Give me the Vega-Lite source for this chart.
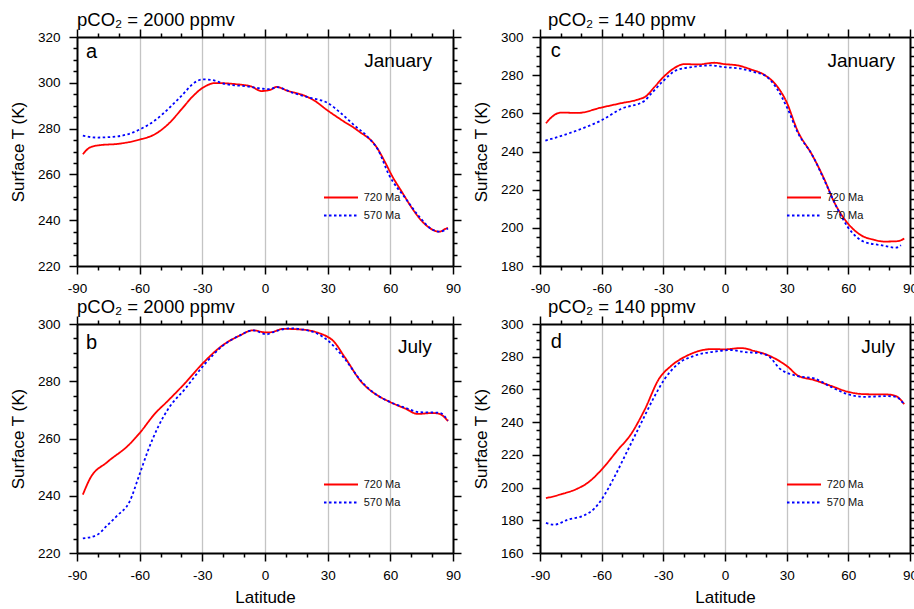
{
  "$schema": "https://vega.github.io/schema/vega-lite/v6.json",
  "padding": {"left": 9, "top": 10, "right": 0, "bottom": 0},
  "background": "white",
  "config": {
    "view": {"stroke": null},
    "font": "Liberation Sans",
    "axis": {"domainColor": "black", "domainWidth": 2, "tickColor": "black", "tickWidth": 1.5, "labelColor": "black", "labelFont": "Liberation Sans", "labelFontSize": 13.5, "titleFont": "Liberation Sans", "titleFontSize": 17, "titleFontWeight": "normal", "titleColor": "black"},
    "title": {"font": "Liberation Sans", "fontSize": 18.5, "fontWeight": "normal", "anchor": "start", "frame": "group", "color": "black", "offset": -1},
    "legend": {"orient": "none", "legendX": 254.5, "legendY": 151, "title": null, "symbolType": "M-2,0H2", "symbolSize": 289, "symbolStrokeWidth": 2, "labelFontSize": 11, "labelFont": "Liberation Sans", "labelColor": "#111", "labelOffset": 13.2, "rowPadding": 3, "padding": 0}
  },
  "datasets": {
    "curves": [
      {"panel": "a", "series": "720 Ma", "lat": -87.2, "T": 268.8}, {"panel": "a", "series": "720 Ma", "lat": -83.7, "T": 271.8}, {"panel": "a", "series": "720 Ma", "lat": -78.8, "T": 272.8}, {"panel": "a", "series": "720 Ma", "lat": -70.7, "T": 273.3}, {"panel": "a", "series": "720 Ma", "lat": -60, "T": 275.2}, {"panel": "a", "series": "720 Ma", "lat": -52.8, "T": 277.5}, {"panel": "a", "series": "720 Ma", "lat": -46.3, "T": 282.0}, {"panel": "a", "series": "720 Ma", "lat": -39.8, "T": 288.6}, {"panel": "a", "series": "720 Ma", "lat": -35, "T": 293.7}, {"panel": "a", "series": "720 Ma", "lat": -30, "T": 297.7}, {"panel": "a", "series": "720 Ma", "lat": -23.6, "T": 299.9}, {"panel": "a", "series": "720 Ma", "lat": -13.9, "T": 299.4}, {"panel": "a", "series": "720 Ma", "lat": -6.6, "T": 298.4}, {"panel": "a", "series": "720 Ma", "lat": -1.7, "T": 296.4}, {"panel": "a", "series": "720 Ma", "lat": 2.4, "T": 296.9}, {"panel": "a", "series": "720 Ma", "lat": 5.6, "T": 298.2}, {"panel": "a", "series": "720 Ma", "lat": 10.5, "T": 296.6}, {"panel": "a", "series": "720 Ma", "lat": 18.6, "T": 294.5}, {"panel": "a", "series": "720 Ma", "lat": 23.5, "T": 292.3}, {"panel": "a", "series": "720 Ma", "lat": 30, "T": 287.9}, {"panel": "a", "series": "720 Ma", "lat": 36.4, "T": 283.9}, {"panel": "a", "series": "720 Ma", "lat": 44.5, "T": 279.1}, {"panel": "a", "series": "720 Ma", "lat": 53.5, "T": 271.8}, {"panel": "a", "series": "720 Ma", "lat": 57.5, "T": 265.3}, {"panel": "a", "series": "720 Ma", "lat": 60.8, "T": 259.4}, {"panel": "a", "series": "720 Ma", "lat": 65.7, "T": 252.1}, {"panel": "a", "series": "720 Ma", "lat": 70.5, "T": 245.1}, {"panel": "a", "series": "720 Ma", "lat": 75.4, "T": 239.3}, {"panel": "a", "series": "720 Ma", "lat": 80.3, "T": 235.8}, {"panel": "a", "series": "720 Ma", "lat": 83.5, "T": 235.0}, {"panel": "a", "series": "720 Ma", "lat": 86.8, "T": 236.4}, {"panel": "a", "series": "720 Ma", "lat": 87.6, "T": 236.6},
      {"panel": "a", "series": "570 Ma", "lat": -87.2, "T": 276.9}, {"panel": "a", "series": "570 Ma", "lat": -80.4, "T": 276.1}, {"panel": "a", "series": "570 Ma", "lat": -70.7, "T": 276.6}, {"panel": "a", "series": "570 Ma", "lat": -60, "T": 279.6}, {"panel": "a", "series": "570 Ma", "lat": -52.8, "T": 283.5}, {"panel": "a", "series": "570 Ma", "lat": -46.3, "T": 288.6}, {"panel": "a", "series": "570 Ma", "lat": -39.8, "T": 294.5}, {"panel": "a", "series": "570 Ma", "lat": -33.4, "T": 300.3}, {"panel": "a", "series": "570 Ma", "lat": -30, "T": 301.5}, {"panel": "a", "series": "570 Ma", "lat": -26, "T": 301.3}, {"panel": "a", "series": "570 Ma", "lat": -18.7, "T": 299.4}, {"panel": "a", "series": "570 Ma", "lat": -9, "T": 298.5}, {"panel": "a", "series": "570 Ma", "lat": -0.9, "T": 297.4}, {"panel": "a", "series": "570 Ma", "lat": 2.4, "T": 297.2}, {"panel": "a", "series": "570 Ma", "lat": 5.6, "T": 298.1}, {"panel": "a", "series": "570 Ma", "lat": 13.7, "T": 295.5}, {"panel": "a", "series": "570 Ma", "lat": 21.8, "T": 293.4}, {"panel": "a", "series": "570 Ma", "lat": 30, "T": 291.2}, {"panel": "a", "series": "570 Ma", "lat": 36.4, "T": 286.7}, {"panel": "a", "series": "570 Ma", "lat": 42.9, "T": 281.3}, {"panel": "a", "series": "570 Ma", "lat": 49.4, "T": 276.2}, {"panel": "a", "series": "570 Ma", "lat": 54.3, "T": 270.4}, {"panel": "a", "series": "570 Ma", "lat": 59.2, "T": 260.1}, {"panel": "a", "series": "570 Ma", "lat": 67.3, "T": 249.5}, {"panel": "a", "series": "570 Ma", "lat": 73.8, "T": 241.6}, {"panel": "a", "series": "570 Ma", "lat": 80.3, "T": 235.8}, {"panel": "a", "series": "570 Ma", "lat": 83.5, "T": 235.0}, {"panel": "a", "series": "570 Ma", "lat": 87.6, "T": 236.4},
      {"panel": "c", "series": "720 Ma", "lat": -87.1, "T": 254.8}, {"panel": "c", "series": "720 Ma", "lat": -83.8, "T": 258.5}, {"panel": "c", "series": "720 Ma", "lat": -79.8, "T": 260.4}, {"panel": "c", "series": "720 Ma", "lat": -71.7, "T": 260.2}, {"panel": "c", "series": "720 Ma", "lat": -60.3, "T": 263.0}, {"panel": "c", "series": "720 Ma", "lat": -50.6, "T": 265.3}, {"panel": "c", "series": "720 Ma", "lat": -42.5, "T": 267.2}, {"panel": "c", "series": "720 Ma", "lat": -38.4, "T": 269.0}, {"panel": "c", "series": "720 Ma", "lat": -34.4, "T": 273.7}, {"panel": "c", "series": "720 Ma", "lat": -29.5, "T": 279.5}, {"panel": "c", "series": "720 Ma", "lat": -24.7, "T": 283.7}, {"panel": "c", "series": "720 Ma", "lat": -19.8, "T": 285.8}, {"panel": "c", "series": "720 Ma", "lat": -13.3, "T": 285.6}, {"panel": "c", "series": "720 Ma", "lat": -5.2, "T": 286.5}, {"panel": "c", "series": "720 Ma", "lat": -0.3, "T": 285.8}, {"panel": "c", "series": "720 Ma", "lat": 6.2, "T": 285.1}, {"panel": "c", "series": "720 Ma", "lat": 12.6, "T": 283.0}, {"panel": "c", "series": "720 Ma", "lat": 19.1, "T": 280.2}, {"panel": "c", "series": "720 Ma", "lat": 24.8, "T": 274.9}, {"panel": "c", "series": "720 Ma", "lat": 29.7, "T": 266.5}, {"panel": "c", "series": "720 Ma", "lat": 35.3, "T": 250.9}, {"panel": "c", "series": "720 Ma", "lat": 42.6, "T": 237.8}, {"panel": "c", "series": "720 Ma", "lat": 48.3, "T": 225.5}, {"panel": "c", "series": "720 Ma", "lat": 53.2, "T": 213.3}, {"panel": "c", "series": "720 Ma", "lat": 59.7, "T": 202.4}, {"panel": "c", "series": "720 Ma", "lat": 66.2, "T": 196.1}, {"panel": "c", "series": "720 Ma", "lat": 72.6, "T": 193.7}, {"panel": "c", "series": "720 Ma", "lat": 77.5, "T": 192.8}, {"panel": "c", "series": "720 Ma", "lat": 84, "T": 193.0}, {"panel": "c", "series": "720 Ma", "lat": 87.2, "T": 194.4},
      {"panel": "c", "series": "570 Ma", "lat": -87.4, "T": 245.7}, {"panel": "c", "series": "570 Ma", "lat": -78.2, "T": 248.7}, {"panel": "c", "series": "570 Ma", "lat": -70.1, "T": 251.8}, {"panel": "c", "series": "570 Ma", "lat": -60.3, "T": 256.2}, {"panel": "c", "series": "570 Ma", "lat": -50.6, "T": 262.3}, {"panel": "c", "series": "570 Ma", "lat": -39.2, "T": 266.5}, {"panel": "c", "series": "570 Ma", "lat": -36, "T": 270.2}, {"panel": "c", "series": "570 Ma", "lat": -30.3, "T": 276.7}, {"panel": "c", "series": "570 Ma", "lat": -23.8, "T": 282.5}, {"panel": "c", "series": "570 Ma", "lat": -16.5, "T": 284.2}, {"panel": "c", "series": "570 Ma", "lat": -6.8, "T": 285.1}, {"panel": "c", "series": "570 Ma", "lat": -0.3, "T": 284.2}, {"panel": "c", "series": "570 Ma", "lat": 7.8, "T": 283.4}, {"panel": "c", "series": "570 Ma", "lat": 14.3, "T": 281.6}, {"panel": "c", "series": "570 Ma", "lat": 19.9, "T": 279.5}, {"panel": "c", "series": "570 Ma", "lat": 24.8, "T": 273.7}, {"panel": "c", "series": "570 Ma", "lat": 30.5, "T": 262.3}, {"panel": "c", "series": "570 Ma", "lat": 35.3, "T": 250.1}, {"panel": "c", "series": "570 Ma", "lat": 42.6, "T": 237.8}, {"panel": "c", "series": "570 Ma", "lat": 48.3, "T": 225.0}, {"panel": "c", "series": "570 Ma", "lat": 54.8, "T": 209.8}, {"panel": "c", "series": "570 Ma", "lat": 59.7, "T": 200.5}, {"panel": "c", "series": "570 Ma", "lat": 67.8, "T": 192.6}, {"panel": "c", "series": "570 Ma", "lat": 75.9, "T": 190.9}, {"panel": "c", "series": "570 Ma", "lat": 83.2, "T": 189.6}, {"panel": "c", "series": "570 Ma", "lat": 85.6, "T": 190.9},
      {"panel": "b", "series": "720 Ma", "lat": -87.2, "T": 240.4}, {"panel": "b", "series": "720 Ma", "lat": -83.7, "T": 246.1}, {"panel": "b", "series": "720 Ma", "lat": -75.6, "T": 251.7}, {"panel": "b", "series": "720 Ma", "lat": -65, "T": 257.9}, {"panel": "b", "series": "720 Ma", "lat": -60, "T": 261.9}, {"panel": "b", "series": "720 Ma", "lat": -52.8, "T": 268.6}, {"panel": "b", "series": "720 Ma", "lat": -46.3, "T": 273.3}, {"panel": "b", "series": "720 Ma", "lat": -38.2, "T": 279.4}, {"panel": "b", "series": "720 Ma", "lat": -30, "T": 286.1}, {"panel": "b", "series": "720 Ma", "lat": -20.4, "T": 292.5}, {"panel": "b", "series": "720 Ma", "lat": -12.3, "T": 295.9}, {"panel": "b", "series": "720 Ma", "lat": -5.8, "T": 297.8}, {"panel": "b", "series": "720 Ma", "lat": -0.1, "T": 297.1}, {"panel": "b", "series": "720 Ma", "lat": 2.4, "T": 297.1}, {"panel": "b", "series": "720 Ma", "lat": 8.8, "T": 298.3}, {"panel": "b", "series": "720 Ma", "lat": 18.6, "T": 298.0}, {"panel": "b", "series": "720 Ma", "lat": 25.1, "T": 297.0}, {"panel": "b", "series": "720 Ma", "lat": 30, "T": 295.5}, {"panel": "b", "series": "720 Ma", "lat": 32.4, "T": 294.3}, {"panel": "b", "series": "720 Ma", "lat": 38.1, "T": 288.5}, {"panel": "b", "series": "720 Ma", "lat": 46.2, "T": 279.7}, {"panel": "b", "series": "720 Ma", "lat": 52.7, "T": 275.6}, {"panel": "b", "series": "720 Ma", "lat": 60, "T": 272.7}, {"panel": "b", "series": "720 Ma", "lat": 67.3, "T": 270.4}, {"panel": "b", "series": "720 Ma", "lat": 73, "T": 268.6}, {"panel": "b", "series": "720 Ma", "lat": 80.3, "T": 268.9}, {"panel": "b", "series": "720 Ma", "lat": 83.5, "T": 268.6}, {"panel": "b", "series": "720 Ma", "lat": 87.6, "T": 266.1},
      {"panel": "b", "series": "570 Ma", "lat": -87.2, "T": 225.1}, {"panel": "b", "series": "570 Ma", "lat": -80.4, "T": 226.3}, {"panel": "b", "series": "570 Ma", "lat": -75.6, "T": 229.6}, {"panel": "b", "series": "570 Ma", "lat": -70.7, "T": 233.1}, {"panel": "b", "series": "570 Ma", "lat": -65, "T": 237.7}, {"panel": "b", "series": "570 Ma", "lat": -60, "T": 247.6}, {"panel": "b", "series": "570 Ma", "lat": -56, "T": 255.8}, {"panel": "b", "series": "570 Ma", "lat": -51.2, "T": 264.0}, {"panel": "b", "series": "570 Ma", "lat": -46.3, "T": 270.4}, {"panel": "b", "series": "570 Ma", "lat": -38.2, "T": 277.4}, {"panel": "b", "series": "570 Ma", "lat": -30, "T": 285.0}, {"panel": "b", "series": "570 Ma", "lat": -20.4, "T": 292.3}, {"panel": "b", "series": "570 Ma", "lat": -12.3, "T": 295.9}, {"panel": "b", "series": "570 Ma", "lat": -5.8, "T": 297.8}, {"panel": "b", "series": "570 Ma", "lat": 0.7, "T": 296.4}, {"panel": "b", "series": "570 Ma", "lat": 4, "T": 297.2}, {"panel": "b", "series": "570 Ma", "lat": 12.1, "T": 298.5}, {"panel": "b", "series": "570 Ma", "lat": 18.6, "T": 298.0}, {"panel": "b", "series": "570 Ma", "lat": 25.1, "T": 296.6}, {"panel": "b", "series": "570 Ma", "lat": 30, "T": 294.3}, {"panel": "b", "series": "570 Ma", "lat": 38.1, "T": 287.9}, {"panel": "b", "series": "570 Ma", "lat": 46.2, "T": 279.9}, {"panel": "b", "series": "570 Ma", "lat": 52.7, "T": 275.6}, {"panel": "b", "series": "570 Ma", "lat": 60, "T": 272.7}, {"panel": "b", "series": "570 Ma", "lat": 67.3, "T": 270.7}, {"panel": "b", "series": "570 Ma", "lat": 73.8, "T": 269.2}, {"panel": "b", "series": "570 Ma", "lat": 83.5, "T": 269.0}, {"panel": "b", "series": "570 Ma", "lat": 87.6, "T": 266.3},
      {"panel": "d", "series": "720 Ma", "lat": -87.1, "T": 193.5}, {"panel": "d", "series": "720 Ma", "lat": -79.8, "T": 195.9}, {"panel": "d", "series": "720 Ma", "lat": -71.7, "T": 199.4}, {"panel": "d", "series": "720 Ma", "lat": -66.8, "T": 202.9}, {"panel": "d", "series": "720 Ma", "lat": -60.3, "T": 210.6}, {"panel": "d", "series": "720 Ma", "lat": -52.2, "T": 222.9}, {"panel": "d", "series": "720 Ma", "lat": -45.7, "T": 232.7}, {"panel": "d", "series": "720 Ma", "lat": -39.2, "T": 247.3}, {"panel": "d", "series": "720 Ma", "lat": -32, "T": 266.7}, {"panel": "d", "series": "720 Ma", "lat": -26.3, "T": 274.3}, {"panel": "d", "series": "720 Ma", "lat": -18.2, "T": 280.8}, {"panel": "d", "series": "720 Ma", "lat": -6, "T": 284.7}, {"panel": "d", "series": "720 Ma", "lat": -0.3, "T": 284.5}, {"panel": "d", "series": "720 Ma", "lat": 7.8, "T": 285.3}, {"panel": "d", "series": "720 Ma", "lat": 14.3, "T": 283.5}, {"panel": "d", "series": "720 Ma", "lat": 20.8, "T": 281.0}, {"panel": "d", "series": "720 Ma", "lat": 25.6, "T": 278.0}, {"panel": "d", "series": "720 Ma", "lat": 30.5, "T": 273.9}, {"panel": "d", "series": "720 Ma", "lat": 35.3, "T": 268.6}, {"panel": "d", "series": "720 Ma", "lat": 43.4, "T": 265.7}, {"panel": "d", "series": "720 Ma", "lat": 51.5, "T": 262.2}, {"panel": "d", "series": "720 Ma", "lat": 59.7, "T": 258.6}, {"panel": "d", "series": "720 Ma", "lat": 67.8, "T": 257.1}, {"panel": "d", "series": "720 Ma", "lat": 79.1, "T": 256.9}, {"panel": "d", "series": "720 Ma", "lat": 83.2, "T": 255.9}, {"panel": "d", "series": "720 Ma", "lat": 87.2, "T": 251.0},
      {"panel": "d", "series": "570 Ma", "lat": -87.1, "T": 178.4}, {"panel": "d", "series": "570 Ma", "lat": -83, "T": 177.3}, {"panel": "d", "series": "570 Ma", "lat": -76.5, "T": 180.4}, {"panel": "d", "series": "570 Ma", "lat": -68.4, "T": 183.1}, {"panel": "d", "series": "570 Ma", "lat": -63.6, "T": 187.1}, {"panel": "d", "series": "570 Ma", "lat": -60.3, "T": 192.2}, {"panel": "d", "series": "570 Ma", "lat": -53.8, "T": 206.5}, {"panel": "d", "series": "570 Ma", "lat": -47.3, "T": 222.9}, {"panel": "d", "series": "570 Ma", "lat": -40.9, "T": 239.2}, {"panel": "d", "series": "570 Ma", "lat": -34.4, "T": 255.5}, {"panel": "d", "series": "570 Ma", "lat": -29.5, "T": 266.1}, {"panel": "d", "series": "570 Ma", "lat": -23, "T": 275.5}, {"panel": "d", "series": "570 Ma", "lat": -14.9, "T": 280.6}, {"panel": "d", "series": "570 Ma", "lat": -5.2, "T": 283.1}, {"panel": "d", "series": "570 Ma", "lat": 2.9, "T": 284.1}, {"panel": "d", "series": "570 Ma", "lat": 9.4, "T": 282.9}, {"panel": "d", "series": "570 Ma", "lat": 17.5, "T": 282.0}, {"panel": "d", "series": "570 Ma", "lat": 21.6, "T": 280.0}, {"panel": "d", "series": "570 Ma", "lat": 26.5, "T": 272.9}, {"panel": "d", "series": "570 Ma", "lat": 35.3, "T": 268.2}, {"panel": "d", "series": "570 Ma", "lat": 43.4, "T": 266.7}, {"panel": "d", "series": "570 Ma", "lat": 51.5, "T": 261.6}, {"panel": "d", "series": "570 Ma", "lat": 59.7, "T": 257.1}, {"panel": "d", "series": "570 Ma", "lat": 67.8, "T": 255.5}, {"panel": "d", "series": "570 Ma", "lat": 79.1, "T": 255.9}, {"panel": "d", "series": "570 Ma", "lat": 83.2, "T": 255.5}, {"panel": "d", "series": "570 Ma", "lat": 87.2, "T": 250.8}
    ]
  },
  "columns": 2,
  "spacing": {"row": 2, "column": 10},
  "resolve": {"scale": {"color": "independent", "strokeDash": "independent"}, "legend": {"color": "independent", "strokeDash": "independent"}},
  "concat": [
    {
      "width": 376, "height": 229,
      "title": {"text": "pCO₂ = 2000 ppmv"},
      "layer": [
        {"data": {"name": "curves"}, "transform": [{"filter": "datum.panel === 'a'"}],
         "mark": {"type": "line", "strokeWidth": 1.8, "interpolate": "monotone"},
         "encoding": {
           "x": {"field": "lat", "type": "quantitative", "scale": {"domain": [-90, 90], "nice": false, "zero": false},
                 "axis": {"orient": "bottom", "values": [-90,-80,-70,-60,-50,-40,-30,-20,-10,0,10,20,30,40,50,60,70,80,90], "labelExpr": "datum.value % 30 === 0 ? '' + datum.value : ''", "labelOverlap": false, "labelFlush": false, "labelPadding": 7, "tickSize": {"condition": {"test": "datum.value % 30 === 0", "value": 8}, "value": 4}, "grid": true, "gridColor": "#c4c4c4", "gridWidth": 1.3, "gridOpacity": {"condition": {"test": "datum.value % 30 === 0 && abs(datum.value) < 90", "value": 1}, "value": 0}, "title": null}},
           "y": {"field": "T", "type": "quantitative", "scale": {"domain": [220, 320], "nice": false, "zero": false},
                 "axis": {"orient": "left", "values": [220,225,230,235,240,245,250,255,260,265,270,275,280,285,290,295,300,305,310,315,320], "labelExpr": "datum.value % 20 === 0 ? '' + datum.value : ''", "labelOverlap": false, "labelFlush": false, "labelPadding": 9, "tickSize": {"condition": {"test": "datum.value % 20 === 0", "value": 8}, "value": 4}, "grid": false, "title": "Surface T (K)", "titlePadding": 10}},
           "color": {"field": "series", "type": "nominal", "scale": {"domain": ["720 Ma", "570 Ma"], "range": ["#ff0000", "#0000ff"]}},
           "strokeDash": {"field": "series", "type": "nominal", "scale": {"domain": ["720 Ma", "570 Ma"], "range": [[1, 0], [2.5, 2.5]]}}
         }},
        {"data": {"values": [{}]},
         "mark": {"type": "text", "text": "a", "align": "left", "baseline": "alphabetic", "fontSize": 20, "font": "Liberation Sans", "color": "black"},
         "encoding": {
           "x": {"datum": -85.7, "type": "quantitative", "axis": {"orient": "top", "values": [-90,-80,-70,-60,-50,-40,-30,-20,-10,0,10,20,30,40,50,60,70,80,90], "labels": false, "tickSize": {"condition": {"test": "datum.value % 30 === 0", "value": 8}, "value": 4}, "grid": false, "title": null}},
           "y": {"datum": 310.8, "type": "quantitative", "axis": {"orient": "right", "values": [220,225,230,235,240,245,250,255,260,265,270,275,280,285,290,295,300,305,310,315,320], "labels": false, "tickSize": {"condition": {"test": "datum.value % 20 === 0", "value": 8}, "value": 4}, "grid": false, "title": null}}
         }},
        {"data": {"values": [{}]},
         "mark": {"type": "text", "text": "January", "align": "right", "baseline": "alphabetic", "fontSize": 19, "font": "Liberation Sans", "color": "black"},
         "encoding": {
           "x": {"datum": 79.9, "type": "quantitative", "axis": null},
           "y": {"datum": 306.9, "type": "quantitative", "axis": null}
         }}
      ]
    },
    {
      "width": 370, "height": 229,
      "title": {"text": "pCO₂ = 140 ppmv", "dx": 8},
      "layer": [
        {"data": {"name": "curves"}, "transform": [{"filter": "datum.panel === 'c'"}],
         "mark": {"type": "line", "strokeWidth": 1.8, "interpolate": "monotone"},
         "encoding": {
           "x": {"field": "lat", "type": "quantitative", "scale": {"domain": [-90, 90], "nice": false, "zero": false},
                 "axis": {"orient": "bottom", "values": [-90,-80,-70,-60,-50,-40,-30,-20,-10,0,10,20,30,40,50,60,70,80,90], "labelExpr": "datum.value % 30 === 0 ? '' + datum.value : ''", "labelOverlap": false, "labelFlush": false, "labelPadding": 7, "tickSize": {"condition": {"test": "datum.value % 30 === 0", "value": 8}, "value": 4}, "grid": true, "gridColor": "#c4c4c4", "gridWidth": 1.3, "gridOpacity": {"condition": {"test": "datum.value % 30 === 0 && abs(datum.value) < 90", "value": 1}, "value": 0}, "title": null}},
           "y": {"field": "T", "type": "quantitative", "scale": {"domain": [180, 300], "nice": false, "zero": false},
                 "axis": {"orient": "left", "values": [180,185,190,195,200,205,210,215,220,225,230,235,240,245,250,255,260,265,270,275,280,285,290,295,300], "labelExpr": "datum.value % 20 === 0 ? '' + datum.value : ''", "labelOverlap": false, "labelFlush": false, "labelPadding": 9, "tickSize": {"condition": {"test": "datum.value % 20 === 0", "value": 8}, "value": 4}, "grid": false, "title": "Surface T (K)", "titlePadding": 10}},
           "color": {"field": "series", "type": "nominal", "scale": {"domain": ["720 Ma", "570 Ma"], "range": ["#ff0000", "#0000ff"]}},
           "strokeDash": {"field": "series", "type": "nominal", "scale": {"domain": ["720 Ma", "570 Ma"], "range": [[1, 0], [2.5, 2.5]]}}
         }},
        {"data": {"values": [{}]},
         "mark": {"type": "text", "text": "c", "align": "left", "baseline": "alphabetic", "fontSize": 20, "font": "Liberation Sans", "color": "black"},
         "encoding": {
           "x": {"datum": -84.8, "type": "quantitative", "axis": {"orient": "top", "values": [-90,-80,-70,-60,-50,-40,-30,-20,-10,0,10,20,30,40,50,60,70,80,90], "labels": false, "tickSize": {"condition": {"test": "datum.value % 30 === 0", "value": 8}, "value": 4}, "grid": false, "title": null}},
           "y": {"datum": 289.5, "type": "quantitative", "axis": {"orient": "right", "values": [180,185,190,195,200,205,210,215,220,225,230,235,240,245,250,255,260,265,270,275,280,285,290,295,300], "labels": false, "tickSize": {"condition": {"test": "datum.value % 20 === 0", "value": 8}, "value": 4}, "grid": false, "title": null}}
         }},
        {"data": {"values": [{}]},
         "mark": {"type": "text", "text": "January", "align": "right", "baseline": "alphabetic", "fontSize": 19, "font": "Liberation Sans", "color": "black"},
         "encoding": {
           "x": {"datum": 82.7, "type": "quantitative", "axis": null},
           "y": {"datum": 284.3, "type": "quantitative", "axis": null}
         }}
      ]
    },
    {
      "width": 376, "height": 229,
      "title": {"text": "pCO₂ = 2000 ppmv"},
      "layer": [
        {"data": {"name": "curves"}, "transform": [{"filter": "datum.panel === 'b'"}],
         "mark": {"type": "line", "strokeWidth": 1.8, "interpolate": "monotone"},
         "encoding": {
           "x": {"field": "lat", "type": "quantitative", "scale": {"domain": [-90, 90], "nice": false, "zero": false},
                 "axis": {"orient": "bottom", "values": [-90,-80,-70,-60,-50,-40,-30,-20,-10,0,10,20,30,40,50,60,70,80,90], "labelExpr": "datum.value % 30 === 0 ? '' + datum.value : ''", "labelOverlap": false, "labelFlush": false, "labelPadding": 7, "tickSize": {"condition": {"test": "datum.value % 30 === 0", "value": 8}, "value": 4}, "grid": true, "gridColor": "#c4c4c4", "gridWidth": 1.3, "gridOpacity": {"condition": {"test": "datum.value % 30 === 0 && abs(datum.value) < 90", "value": 1}, "value": 0}, "title": "Latitude", "titlePadding": 8}},
           "y": {"field": "T", "type": "quantitative", "scale": {"domain": [220, 300], "nice": false, "zero": false},
                 "axis": {"orient": "left", "values": [220,225,230,235,240,245,250,255,260,265,270,275,280,285,290,295,300], "labelExpr": "datum.value % 20 === 0 ? '' + datum.value : ''", "labelOverlap": false, "labelFlush": false, "labelPadding": 9, "tickSize": {"condition": {"test": "datum.value % 20 === 0", "value": 8}, "value": 4}, "grid": false, "title": "Surface T (K)", "titlePadding": 10}},
           "color": {"field": "series", "type": "nominal", "scale": {"domain": ["720 Ma", "570 Ma"], "range": ["#ff0000", "#0000ff"]}},
           "strokeDash": {"field": "series", "type": "nominal", "scale": {"domain": ["720 Ma", "570 Ma"], "range": [[1, 0], [2.5, 2.5]]}}
         }},
        {"data": {"values": [{}]},
         "mark": {"type": "text", "text": "b", "align": "left", "baseline": "alphabetic", "fontSize": 20, "font": "Liberation Sans", "color": "black"},
         "encoding": {
           "x": {"datum": -85.7, "type": "quantitative", "axis": {"orient": "top", "values": [-90,-80,-70,-60,-50,-40,-30,-20,-10,0,10,20,30,40,50,60,70,80,90], "labels": false, "tickSize": {"condition": {"test": "datum.value % 30 === 0", "value": 8}, "value": 4}, "grid": false, "title": null}},
           "y": {"datum": 291.3, "type": "quantitative", "axis": {"orient": "right", "values": [220,225,230,235,240,245,250,255,260,265,270,275,280,285,290,295,300], "labels": false, "tickSize": {"condition": {"test": "datum.value % 20 === 0", "value": 8}, "value": 4}, "grid": false, "title": null}}
         }},
        {"data": {"values": [{}]},
         "mark": {"type": "text", "text": "July", "align": "right", "baseline": "alphabetic", "fontSize": 19, "font": "Liberation Sans", "color": "black"},
         "encoding": {
           "x": {"datum": 79.8, "type": "quantitative", "axis": null},
           "y": {"datum": 289.9, "type": "quantitative", "axis": null}
         }}
      ]
    },
    {
      "width": 370, "height": 229,
      "title": {"text": "pCO₂ = 140 ppmv", "dx": 8},
      "layer": [
        {"data": {"name": "curves"}, "transform": [{"filter": "datum.panel === 'd'"}],
         "mark": {"type": "line", "strokeWidth": 1.8, "interpolate": "monotone"},
         "encoding": {
           "x": {"field": "lat", "type": "quantitative", "scale": {"domain": [-90, 90], "nice": false, "zero": false},
                 "axis": {"orient": "bottom", "values": [-90,-80,-70,-60,-50,-40,-30,-20,-10,0,10,20,30,40,50,60,70,80,90], "labelExpr": "datum.value % 30 === 0 ? '' + datum.value : ''", "labelOverlap": false, "labelFlush": false, "labelPadding": 7, "tickSize": {"condition": {"test": "datum.value % 30 === 0", "value": 8}, "value": 4}, "grid": true, "gridColor": "#c4c4c4", "gridWidth": 1.3, "gridOpacity": {"condition": {"test": "datum.value % 30 === 0 && abs(datum.value) < 90", "value": 1}, "value": 0}, "title": "Latitude", "titlePadding": 8}},
           "y": {"field": "T", "type": "quantitative", "scale": {"domain": [160, 300], "nice": false, "zero": false},
                 "axis": {"orient": "left", "values": [160,165,170,175,180,185,190,195,200,205,210,215,220,225,230,235,240,245,250,255,260,265,270,275,280,285,290,295,300], "labelExpr": "datum.value % 20 === 0 ? '' + datum.value : ''", "labelOverlap": false, "labelFlush": false, "labelPadding": 9, "tickSize": {"condition": {"test": "datum.value % 20 === 0", "value": 8}, "value": 4}, "grid": false, "title": "Surface T (K)", "titlePadding": 10}},
           "color": {"field": "series", "type": "nominal", "scale": {"domain": ["720 Ma", "570 Ma"], "range": ["#ff0000", "#0000ff"]}},
           "strokeDash": {"field": "series", "type": "nominal", "scale": {"domain": ["720 Ma", "570 Ma"], "range": [[1, 0], [2.5, 2.5]]}}
         }},
        {"data": {"values": [{}]},
         "mark": {"type": "text", "text": "d", "align": "left", "baseline": "alphabetic", "fontSize": 20, "font": "Liberation Sans", "color": "black"},
         "encoding": {
           "x": {"datum": -84.8, "type": "quantitative", "axis": {"orient": "top", "values": [-90,-80,-70,-60,-50,-40,-30,-20,-10,0,10,20,30,40,50,60,70,80,90], "labels": false, "tickSize": {"condition": {"test": "datum.value % 30 === 0", "value": 8}, "value": 4}, "grid": false, "title": null}},
           "y": {"datum": 285.1, "type": "quantitative", "axis": {"orient": "right", "values": [160,165,170,175,180,185,190,195,200,205,210,215,220,225,230,235,240,245,250,255,260,265,270,275,280,285,290,295,300], "labels": false, "tickSize": {"condition": {"test": "datum.value % 20 === 0", "value": 8}, "value": 4}, "grid": false, "title": null}}
         }},
        {"data": {"values": [{}]},
         "mark": {"type": "text", "text": "July", "align": "right", "baseline": "alphabetic", "fontSize": 19, "font": "Liberation Sans", "color": "black"},
         "encoding": {
           "x": {"datum": 82.7, "type": "quantitative", "axis": null},
           "y": {"datum": 282.5, "type": "quantitative", "axis": null}
         }}
      ]
    }
  ]
}
